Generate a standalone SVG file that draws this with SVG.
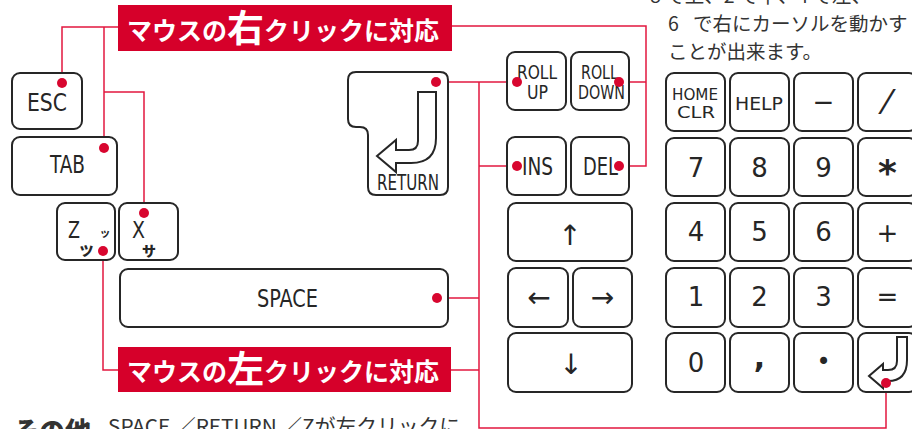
<svg xmlns="http://www.w3.org/2000/svg" width="912" height="429" viewBox="0 0 912 429">
<defs>
<style>
.key{fill:#fff;stroke:#262626;stroke-width:2}
.wire{fill:none;stroke:#e2173f;stroke-width:1.5}
.dot{fill:#d8062f}
.box{fill:#d6002a}
.cond{font-family:"Liberation Sans Narrow","DejaVu Sans Condensed","Liberation Sans",sans-serif;fill:#262626;text-anchor:middle}
.geo{font-family:"DejaVu Sans","Liberation Sans",sans-serif;fill:#262626;text-anchor:middle}
.lab{font-family:"Noto Sans CJK JP",sans-serif;font-weight:700;fill:#fff;font-size:25px}
.jp{font-family:"Noto Sans CJK JP",sans-serif;fill:#333}
.kana{font-family:"Noto Sans CJK JP",sans-serif;fill:#262626;text-anchor:middle}
</style>
</defs>
<rect width="912" height="429" fill="#fff"/>

<g id="connectors">
<path class="wire" d="M118,27 H62 V83"/>
<path class="wire" d="M104,27 V148"/>
<path class="wire" d="M104,92 H144 V213"/>
<path class="wire" d="M450,26 H646 V166 H619"/>
<path class="wire" d="M646,82 H619"/>
<path class="wire" d="M103,251 V370 H118"/>
<path class="wire" d="M451,370 H479"/>
<path class="wire" d="M436,82 H517"/>
<path class="wire" d="M479,82 V428 H886 V383"/>
<path class="wire" d="M479,166 H517"/>
<path class="wire" d="M437,298 H479"/>
</g>

<g id="label-right">
<rect class="box" x="118" y="5" width="334" height="46"/>
<text class="lab" y="40"><tspan x="127">マウスの</tspan><tspan font-size="37" dy="2">右</tspan><tspan dy="-2">クリックに対応</tspan></text>
</g>
<g id="label-left">
<rect class="box" x="118" y="347" width="333" height="45"/>
<text class="lab" y="381"><tspan x="127">マウスの</tspan><tspan font-size="37" dy="2">左</tspan><tspan dy="-2">クリックに対応</tspan></text>
</g>

<g id="key-esc"><rect class="key" x="12" y="73" width="70" height="56" rx="8"/><text class="cond" x="47" y="111" font-size="24" textLength="40" lengthAdjust="spacingAndGlyphs">ESC</text></g>
<g id="key-tab"><rect class="key" x="12" y="137" width="105" height="58" rx="8"/><text class="cond" x="67.5" y="173" font-size="24" textLength="35" lengthAdjust="spacingAndGlyphs">TAB</text></g>
<g id="key-z"><rect class="key" x="57" y="203" width="58" height="57" rx="8"/>
<text class="cond" x="74" y="238" font-size="23" textLength="12" lengthAdjust="spacingAndGlyphs">Z</text>
<text class="kana" x="105" y="237" font-size="11" font-weight="700">ッ</text>
<text class="kana" x="86.5" y="256" font-size="14" font-weight="900">ツ</text></g>
<g id="key-x"><rect class="key" x="119" y="203" width="59" height="57" rx="8"/>
<text class="cond" x="138.5" y="238" font-size="23" textLength="13" lengthAdjust="spacingAndGlyphs">X</text>
<text class="kana" x="149" y="256" font-size="14" font-weight="900">サ</text></g>
<g id="key-space"><rect class="key" x="120" y="269" width="328" height="58" rx="8"/><text class="cond" x="287.5" y="307" font-size="24" textLength="61" lengthAdjust="spacingAndGlyphs">SPACE</text></g>

<g id="key-return">
<path class="key" d="M356,72 H440 Q448,72 448,80 V187 Q448,195 440,195 H376 Q368,195 368,187 V135 Q368,127 360,127 H356 Q348,127 348,119 V80 Q348,72 356,72 Z"/>
<path fill="#fff" stroke="#262626" stroke-width="2" stroke-linejoin="miter" d="M418,92 H436 V138 Q436,163 411,163 H396 V172 L377,156 L396,140 V150 H409 Q418,150 418,141 Z"/>
<text class="cond" x="408" y="190" font-size="21" textLength="62" lengthAdjust="spacingAndGlyphs">RETURN</text>
</g>

<g id="key-rollup"><rect class="key" x="507" y="52" width="59" height="58" rx="8"/>
<text class="cond" x="537" y="79" font-size="20" textLength="40" lengthAdjust="spacingAndGlyphs">ROLL</text>
<text class="cond" x="537.5" y="99" font-size="20" textLength="21" lengthAdjust="spacingAndGlyphs">UP</text></g>
<g id="key-rolldown"><rect class="key" x="571" y="52" width="58" height="58" rx="8"/>
<text class="cond" x="599.5" y="79" font-size="20" textLength="37" lengthAdjust="spacingAndGlyphs">ROLL</text>
<text class="cond" x="601.5" y="99" font-size="20" textLength="47" lengthAdjust="spacingAndGlyphs">DOWN</text></g>
<g id="key-ins"><rect class="key" x="507" y="137" width="59" height="58" rx="8"/><text class="cond" x="537.5" y="175" font-size="24" textLength="31" lengthAdjust="spacingAndGlyphs">INS</text></g>
<g id="key-del"><rect class="key" x="571" y="137" width="58" height="58" rx="8"/><text class="cond" x="600.5" y="175" font-size="24" textLength="35" lengthAdjust="spacingAndGlyphs">DEL</text></g>
<g id="key-up"><rect class="key" x="508" y="203" width="124" height="58" rx="8"/><text class="geo" x="570" y="245" font-size="28">↑</text></g>
<g id="key-left"><rect class="key" x="508" y="268" width="60" height="59" rx="8"/><text class="geo" x="539" y="307" font-size="28">←</text></g>
<g id="key-right"><rect class="key" x="573" y="268" width="59" height="59" rx="8"/><text class="geo" x="602.5" y="307" font-size="28">→</text></g>
<g id="key-down"><rect class="key" x="508" y="333" width="124" height="59" rx="8"/><text class="geo" x="571" y="374" font-size="28">↓</text></g>

<g id="num-home"><rect class="key" x="666" y="73" width="59" height="58" rx="8"/>
<text class="geo" x="695" y="100" font-size="16" textLength="46" lengthAdjust="spacingAndGlyphs">HOME</text>
<text class="geo" x="696" y="118" font-size="16" textLength="38" lengthAdjust="spacingAndGlyphs">CLR</text></g>
<g id="num-help"><rect class="key" x="730" y="73" width="59" height="58" rx="8"/><text class="geo" x="759" y="110" font-size="17" textLength="48" lengthAdjust="spacingAndGlyphs">HELP</text></g>
<g id="num-minus"><rect class="key" x="794" y="73" width="59" height="58" rx="8"/><text class="geo" x="823.5" y="111" font-size="26">−</text></g>
<g id="num-slash"><rect class="key" x="858" y="73" width="59" height="58" rx="8"/><text class="geo" x="887" y="114" font-size="33">⁄</text></g>

<g id="num-7"><rect class="key" x="666" y="138" width="59" height="58" rx="8"/><text class="geo" x="696" y="177" font-size="26">7</text></g>
<g id="num-8"><rect class="key" x="730" y="138" width="59" height="58" rx="8"/><text class="geo" x="759.5" y="177" font-size="26">8</text></g>
<g id="num-9"><rect class="key" x="794" y="138" width="59" height="58" rx="8"/><text class="geo" x="823.5" y="177" font-size="26">9</text></g>
<g id="num-star"><rect class="key" x="858" y="138" width="59" height="58" rx="8"/><text class="geo" x="887.5" y="185" font-size="36" font-weight="700">*</text></g>

<g id="num-4"><rect class="key" x="666" y="203" width="59" height="58" rx="8"/><text class="geo" x="696" y="241" font-size="26">4</text></g>
<g id="num-5"><rect class="key" x="730" y="203" width="59" height="58" rx="8"/><text class="geo" x="759.5" y="241" font-size="26">5</text></g>
<g id="num-6"><rect class="key" x="794" y="203" width="59" height="58" rx="8"/><text class="geo" x="823.5" y="241" font-size="26">6</text></g>
<g id="num-plus"><rect class="key" x="858" y="203" width="59" height="58" rx="8"/><text class="geo" x="887.5" y="242" font-size="26">+</text></g>

<g id="num-1"><rect class="key" x="666" y="268" width="59" height="59" rx="8"/><text class="geo" x="696" y="306" font-size="26">1</text></g>
<g id="num-2"><rect class="key" x="730" y="268" width="59" height="59" rx="8"/><text class="geo" x="759.5" y="306" font-size="26">2</text></g>
<g id="num-3"><rect class="key" x="794" y="268" width="59" height="59" rx="8"/><text class="geo" x="823.5" y="306" font-size="26">3</text></g>
<g id="num-eq"><rect class="key" x="858" y="268" width="59" height="59" rx="8"/><text class="geo" x="887.5" y="306" font-size="26">=</text></g>

<g id="num-0"><rect class="key" x="666" y="333" width="59" height="59" rx="8"/><text class="geo" x="696" y="372" font-size="26">0</text></g>
<g id="num-comma"><rect class="key" x="730" y="333" width="59" height="59" rx="8"/><text class="geo" x="759.5" y="368" font-size="30" font-weight="700">,</text></g>
<g id="num-dot"><rect class="key" x="794" y="333" width="59" height="59" rx="8"/><text class="geo" x="823.5" y="370" font-size="24">•</text></g>
<g id="num-enter"><rect class="key" x="858" y="333" width="59" height="59" rx="8"/>
<path fill="#fff" stroke="#262626" stroke-width="2" d="M897,337 H907 V360 Q907,381 888,381 H883 V388 L869,376 L883,364 V370 H888 Q897,370 897,361 Z"/></g>

<g id="dots">
<circle class="dot" cx="62" cy="83" r="5"/>
<circle class="dot" cx="104" cy="148" r="5"/>
<circle class="dot" cx="144" cy="213" r="5"/>
<circle class="dot" cx="103" cy="251" r="5"/>
<circle class="dot" cx="437" cy="298" r="5"/>
<circle class="dot" cx="436" cy="82" r="5"/>
<circle class="dot" cx="517" cy="82" r="5"/>
<circle class="dot" cx="619" cy="82" r="5"/>
<circle class="dot" cx="517" cy="166" r="5"/>
<circle class="dot" cx="619" cy="166" r="5"/>
<circle class="dot" cx="886" cy="383" r="5"/>
</g>

<g id="note-top">
<text class="jp" x="650" y="3" font-size="19.5">8 で上、2 で下、4 で左、</text>
<text class="jp" x="668" y="31" font-size="19.5">6<tspan x="693">で右にカーソルを動かす</tspan></text>
<text class="jp" x="668" y="59" font-size="19.5">ことが出来ます。</text>
</g>
<g id="note-bottom">
<text class="jp" x="13" y="441" font-size="26" font-weight="900" fill="#222">その他</text>
<text class="jp" x="108" y="434" font-size="20" textLength="352" lengthAdjust="spacingAndGlyphs">SPACE ／RETURN ／Zが左クリックに</text>
</g>
</svg>
